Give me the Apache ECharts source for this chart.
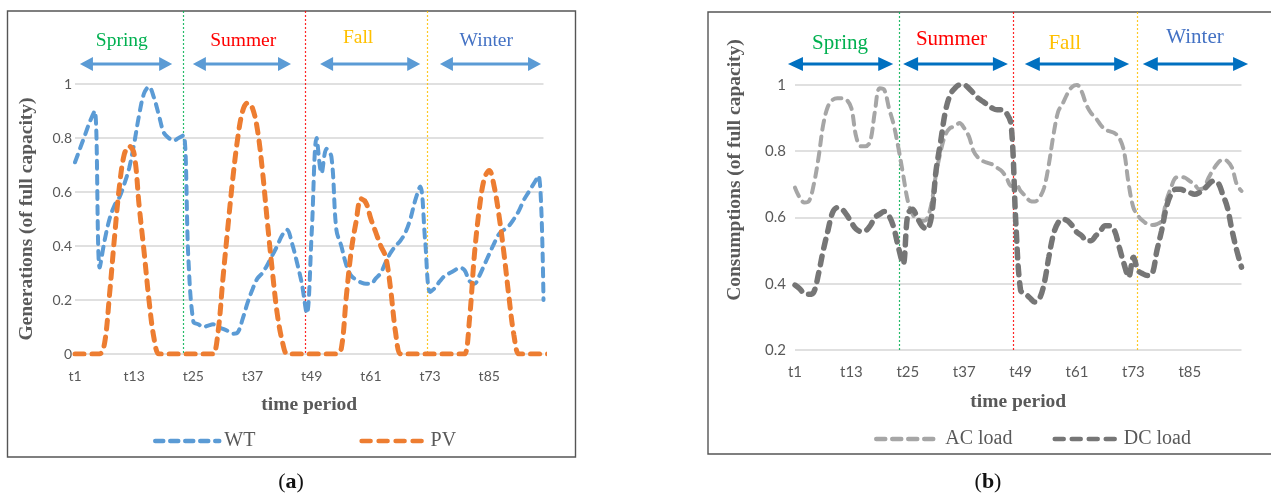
<!DOCTYPE html>
<html><head><meta charset="utf-8">
<script src="https://cdn.jsdelivr.net/npm/echarts@6/dist/echarts.min.js"></script>
<style>html,body{margin:0;padding:0;background:#fff;} #c{width:1271px;height:497px;}</style>
</head><body><div id="c"></div>
<script>
// ---------- DATA ----------
const categories = Array.from({length: 96}, (_, i) => 't' + (i + 1));

const wt = [0.71,0.76,0.81,0.86,0.90,0.32,0.42,0.50,0.55,0.58,0.63,0.69,0.78,0.885,0.965,0.99,0.95,0.885,0.82,0.80,0.79,0.80,0.81,0.35,
  0.12,0.11,0.10,0.105,0.11,0.10,0.093,0.085,0.075,0.08,0.13,0.19,0.24,0.28,0.30,0.33,0.365,0.40,0.44,0.46,0.41,0.34,0.26,0.15,
  0.45,0.80,0.67,0.76,0.73,0.46,0.40,0.33,0.29,0.275,0.265,0.26,0.26,0.28,0.30,0.34,0.375,0.40,0.42,0.45,0.50,0.57,0.62,0.42,
  0.23,0.245,0.27,0.29,0.30,0.31,0.32,0.31,0.27,0.26,0.29,0.33,0.37,0.41,0.445,0.46,0.475,0.50,0.53,0.57,0.60,0.63,0.66,0.20];

const pv = [0,0,0,0,0,0,0.04,0.22,0.43,0.62,0.74,0.77,0.74,0.55,0.38,0.20,0.06,0,0,0,0,0,0,0,
  0,0,0,0,0,0.08,0.28,0.47,0.65,0.80,0.90,0.93,0.91,0.83,0.68,0.49,0.31,0.15,0.05,0,0,0,0,0,
  0,0,0,0,0,0,0.02,0.21,0.38,0.49,0.575,0.56,0.50,0.45,0.40,0.36,0.24,0.08,0,0,0,0,0,0,
  0,0,0,0,0,0,0,0,0.13,0.37,0.54,0.65,0.68,0.62,0.51,0.37,0.21,0.07,0,0,0,0,0,0,0,0];

const acLoad = [0.69,0.66,0.645,0.65,0.70,0.78,0.88,0.935,0.955,0.96,0.96,0.955,0.93,0.845,0.815,0.815,0.83,0.92,0.99,0.985,0.93,0.88,0.81,0.73,
  0.65,0.61,0.595,0.59,0.595,0.64,0.73,0.80,0.85,0.87,0.875,0.885,0.87,0.845,0.80,0.78,0.77,0.765,0.76,0.75,0.74,0.72,0.695,0.70,
  0.68,0.665,0.65,0.648,0.66,0.69,0.76,0.85,0.92,0.945,0.975,0.995,1.0,0.98,0.94,0.915,0.90,0.88,0.865,0.86,0.855,0.84,0.80,0.70,
  0.63,0.605,0.59,0.58,0.577,0.58,0.59,0.65,0.69,0.72,0.722,0.72,0.71,0.70,0.685,0.69,0.72,0.745,0.765,0.775,0.77,0.75,0.70,0.68];

const dcLoad = [0.396,0.385,0.37,0.368,0.375,0.43,0.50,0.56,0.615,0.63,0.625,0.608,0.585,0.565,0.558,0.56,0.575,0.60,0.61,0.618,0.605,0.57,0.51,0.46,
  0.61,0.625,0.60,0.575,0.565,0.60,0.74,0.83,0.92,0.97,0.99,1.0,1.0,0.99,0.975,0.96,0.95,0.94,0.93,0.925,0.925,0.915,0.88,0.58,
  0.38,0.37,0.357,0.345,0.355,0.40,0.48,0.55,0.585,0.595,0.59,0.575,0.555,0.545,0.53,0.53,0.545,0.56,0.575,0.575,0.56,0.51,0.46,0.42,
  0.48,0.44,0.43,0.425,0.43,0.50,0.56,0.63,0.67,0.685,0.685,0.68,0.675,0.67,0.675,0.685,0.70,0.71,0.705,0.67,0.63,0.56,0.50,0.45];

const leftYTicks = [0, 1, 0.2];    // min, max, interval
const rightYTicks = [0.2, 1, 0.2];
const labelEvery = 12;              // t1, t13, t25, ...
const seasons = ['Spring', 'Summer', 'Fall', 'Winter'];

// ---------- LAYOUT / STYLE ----------
const seasonColors = ['#00b050', '#ff0000', '#ffc000', '#4472c4'];
const layout = {
  left: {
    boundaries: [21.9, 46.7, 71.4],
    arrows: [[1.0, 19.7], [23.9, 43.8], [49.7, 70.0], [74.0, 94.5]],
    labelX: [9.5, 34.1, 57.4, 83.4], labelY: [41, 41, 38, 41],
    arrowY: 64, arrowColor: '#5b9bd5', headLen: 13, headHalf: 7,
    labelSize: 19.5, boxTop: 11
  },
  right: {
    boundaries: [22.1, 46.4, 72.8],
    arrows: [[-1.5, 20.9], [23.0, 45.3], [48.9, 71.1], [74.0, 96.4]],
    labelX: [9.6, 33.3, 57.4, 85.1], labelY: [43, 39, 43, 37],
    arrowY: 64, arrowColor: '#0070c0', headLen: 15, headHalf: 7,
    labelSize: 21, boxTop: 12
  }
};

const chart = echarts.init(document.getElementById('c'), null, {renderer: 'canvas'});
const tickColor = '#595959';
const serif = '"Liberation Serif", "Times New Roman", serif';

function xAx(gi, fs, gap) {
  return {
    type: 'category', gridIndex: gi, data: categories, boundaryGap: false,
    axisLine: {show: false}, axisTick: {show: false},
    axisLabel: {interval: (i) => i % labelEvery === 0, color: tickColor, fontFamily: 'Lato', fontSize: fs, margin: 15},
    splitLine: {show: false},
    name: 'time period', nameLocation: 'middle', nameGap: gap,
    nameTextStyle: {fontFamily: serif, fontWeight: 'bold', fontSize: 19.5, color: '#595959'}
  };
}
function yAx(gi, ticks, fs, margin) {
  return {
    type: 'value', gridIndex: gi, min: ticks[0], max: ticks[1], interval: ticks[2],
    axisLine: {show: false}, axisTick: {show: false},
    axisLabel: {color: tickColor, fontFamily: 'Lato', fontSize: fs, margin: margin},
    splitLine: {lineStyle: {color: '#d6d6d6', width: 1.5}}
  };
}
function lineSeries(name, data, gi, color, width, dash) {
  return {
    name, type: 'line', xAxisIndex: gi, yAxisIndex: gi, data, smooth: 0.35,
    symbol: 'none', showSymbol: false, animation: false,
    lineStyle: {color, width, type: dash, cap: 'round'}, itemStyle: {color}
  };
}
const legendBase = {itemWidth: 64, itemHeight: 18, itemStyle: {opacity: 0},
  lineStyle: {width: 4.5, cap: 'round'},
  textStyle: {fontFamily: serif, fontSize: 20, color: '#595959'}};

const option = {
  animation: false,
  backgroundColor: '#fff',
  grid: [
    {left: 75, top: 84, width: 468.5, height: 270},
    {left: 795, top: 85, width: 446.5, height: 265}
  ],
  xAxis: [xAx(0, 14, 41), xAx(1, 15, 42)],
  yAxis: [yAx(0, leftYTicks, 14, 3), yAx(1, rightYTicks, 15, 9)],
  legend: [
    Object.assign({data: ['WT', 'PV'], left: 148, top: 426, itemGap: 104}, legendBase),
    Object.assign({data: ['AC load', 'DC load'], left: 869, top: 424, itemGap: 40}, legendBase)
  ],
  series: [
    lineSeries('WT', wt, 0, '#5b9bd5', 4, [8, 7]),
    lineSeries('PV', pv, 0, '#ed7d31', 5, [9, 8]),
    lineSeries('AC load', acLoad, 1, '#a6a6a6', 4, [9, 7]),
    lineSeries('DC load', dcLoad, 1, '#767676', 5.5, [9, 8])
  ]
};
chart.setOption(option);

function idxToPx(gi, v) {
  const x0 = chart.convertToPixel({xAxisIndex: gi}, 0);
  const x1 = chart.convertToPixel({xAxisIndex: gi}, 95);
  return x0 + (x1 - x0) * v / 95;
}
function arrowPoly(xa, xb, y, hl, hh, st) {
  return [[xa, y], [xa + hl, y - hh], [xa + hl, y - st], [xb - hl, y - st], [xb - hl, y - hh], [xb, y],
          [xb - hl, y + hh], [xb - hl, y + st], [xa + hl, y + st], [xa + hl, y + hh]];
}

const graphics = [];
// panel boxes
graphics.push({type: 'rect', shape: {x: 7.5, y: 11, width: 568, height: 446}, style: {fill: 'none', stroke: '#555', lineWidth: 1.4}, z: 0});
graphics.push({type: 'rect', shape: {x: 708, y: 12, width: 570, height: 442}, style: {fill: 'none', stroke: '#555', lineWidth: 1.4}, z: 0});

[['left', 0, leftYTicks[0]], ['right', 1, rightYTicks[0]]].forEach(([key, gi, ymin]) => {
  const L = layout[key];
  const yBottom = chart.convertToPixel({yAxisIndex: gi}, ymin);
  L.boundaries.forEach((b, k) => {
    const x = Math.round(idxToPx(gi, b)) + 0.5;
    graphics.push({type: 'line', shape: {x1: x, y1: L.boxTop, x2: x, y2: yBottom},
      style: {stroke: seasonColors[k], lineWidth: 1.2, lineDash: [2, 2], opacity: 0.85}, z: 1});
  });
  L.arrows.forEach(([a, b]) => {
    graphics.push({type: 'polygon', shape: {points: arrowPoly(idxToPx(gi, a), idxToPx(gi, b), L.arrowY, L.headLen, L.headHalf, 1.6)},
      style: {fill: L.arrowColor}, z: 2});
  });
  seasons.forEach((s, k) => {
    graphics.push({type: 'text', x: idxToPx(gi, L.labelX[k]), y: L.labelY[k],
      style: {text: s, fill: seasonColors[k], font: L.labelSize + 'px ' + serif, align: 'center', verticalAlign: 'middle'}, z: 2});
  });
});

// y-axis titles
graphics.push({type: 'text', x: 27, y: 219, rotation: Math.PI / 2,
  style: {text: 'Generations (of full capacity)', fill: '#595959', font: 'bold 19.5px ' + serif, align: 'center', verticalAlign: 'middle'}});
graphics.push({type: 'text', x: 735, y: 170, rotation: Math.PI / 2,
  style: {text: 'Consumptions (of full capacity)', fill: '#595959', font: 'bold 19.5px ' + serif, align: 'center', verticalAlign: 'middle'}});

// panel captions
[['a', 291], ['b', 988]].forEach(([t, x]) => {
  graphics.push({type: 'text', x: x, y: 482,
    style: {text: '{p|(}{b|' + t + '}{p|)}', align: 'center', verticalAlign: 'middle',
      rich: {p: {font: '22px ' + serif, fill: '#111'}, b: {font: 'bold 22px ' + serif, fill: '#111'}}}});
});

chart.setOption({graphic: graphics});
</script></body></html>
